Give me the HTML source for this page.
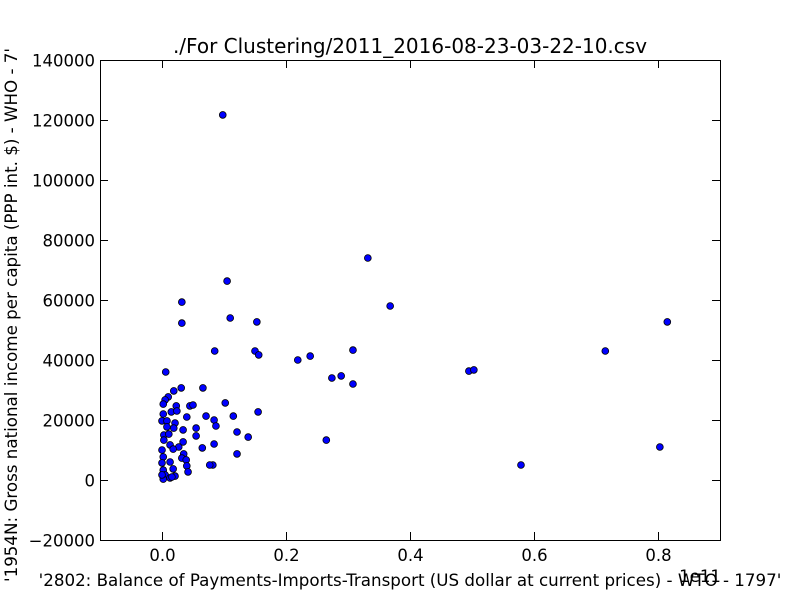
<!DOCTYPE html>
<html><head><meta charset="utf-8"><style>
body{margin:0;background:#fff}
svg{display:block;font-family:"DejaVu Sans","Liberation Sans",sans-serif}
</style></head><body>
<svg id="chart" width="800" height="600">
<rect width="800" height="600" fill="#fff"/>
<text x="410" y="53" font-size="20" text-anchor="middle">./For Clustering/2011_2016-08-23-03-22-10.csv</text>
<text x="410" y="586" font-size="16.7" text-anchor="middle">'2802: Balance of Payments-Imports-Transport (US dollar at current prices) - WTO - 1797'</text>
<text x="700" y="582" font-size="16.5" text-anchor="middle">1e11</text>
<text transform="translate(17,315) rotate(-90)" font-size="16.7" text-anchor="middle">'1954N: Gross national income per capita (PPP int. $) - WHO - 7'</text>
<g id="ticks"></g>
<g id="points"></g>
<rect x="100.5" y="60.5" width="620" height="480" fill="none" stroke="#000" stroke-width="1"/>
</svg>
<script>
const xTicks=[0.0,0.2,0.4,0.6,0.8];
const xTickLabels=["0.0","0.2","0.4","0.6","0.8"];
const yTicks=[-20000,0,20000,40000,60000,80000,100000,120000,140000];
const yTickLabels=["\u221220000","0","20000","40000","60000","80000","100000","120000","140000"];
const xs=[0.098,0.332,0.105,0.368,0.032,0.110,0.032,0.153,0.815,0.085,0.308,0.150,0.715,0.156,0.219,0.239,0.006,0.274,0.289,0.308,0.495,0.503,0.579,0.803,0.265,0.019,0.031,0.066,0.010,0.005,0.002,0.023,0.045,0.050,0.102,0.015,0.024,0.002,0.040,0.071,0.084,0.115,0.155,0.000,0.008,0.021,0.087,0.055,0.034,0.008,0.019,0.055,0.121,0.139,0.003,0.011,0.003,0.034,0.013,0.027,0.065,0.084,0.000,0.018,0.035,0.121,0.002,0.032,0.039,0.000,0.013,0.040,0.082,0.077,0.002,0.018,0.042,0.005,0.021,0.002,0.013,0.000,0.016];
const ys=[121700,74000,66300,58000,59300,54000,52300,52700,52700,43000,43300,43000,43000,41700,40000,41300,36000,34000,34700,32000,36300,36700,5000,11000,13300,29700,30700,30700,27700,26700,25300,24700,24700,25000,25700,22700,23000,22000,21000,21300,20000,21300,22700,19700,19700,19000,18000,17300,16700,17700,17300,14700,16000,14300,15000,15300,13300,12700,11700,11000,10700,12000,10000,10300,8700,8700,7700,7300,6700,5700,6000,4700,5000,5000,3300,3700,2700,1700,1300,300,700,1700,1000];
const X0=100,X1=720,Y0=540,Y1=60,XMIN=-0.1,XMAX=0.9,YMIN=-20000,YMAX=140000;
const sx=v=>X0+(v-XMIN)/(XMAX-XMIN)*(X1-X0);
const sy=v=>Y0-(v-YMIN)/(YMAX-YMIN)*(Y0-Y1);
const NS="http://www.w3.org/2000/svg";
const tg=document.getElementById('ticks');
xTicks.forEach((t,i)=>{
  const x=Math.round(sx(t))+0.5;
  [[540,532],[60,68]].forEach(([a,b])=>{
    const l=document.createElementNS(NS,'line');
    l.setAttribute('x1',x);l.setAttribute('x2',x);l.setAttribute('y1',a);l.setAttribute('y2',b);l.setAttribute('stroke','#000');
    
    
    tg.appendChild(l);
  });
  const tx=document.createElementNS(NS,'text');
  tx.setAttribute('x',x);tx.setAttribute('y',561);tx.setAttribute('font-size','16.5');tx.setAttribute('text-anchor','middle');
  tx.textContent=xTickLabels[i];
  
  
  tg.appendChild(tx);
});
yTicks.forEach((t,i)=>{
  const y=Math.round(sy(t))+0.5;
  [[100,108],[720,712]].forEach(([a,b])=>{
    const l=document.createElementNS(NS,'line');
    l.setAttribute('x1',a);l.setAttribute('x2',b);l.setAttribute('y1',y);l.setAttribute('y2',y);l.setAttribute('stroke','#000');
    
    
    tg.appendChild(l);
  });
  const tx=document.createElementNS(NS,'text');
  tx.setAttribute('x',95);tx.setAttribute('y',y+6);tx.setAttribute('font-size','16.5');tx.setAttribute('text-anchor','end');
  tx.textContent=yTickLabels[i];
  
  
  tg.appendChild(tx);
});
const pg=document.getElementById('points');
xs.forEach((v,i)=>{
  const c=document.createElementNS(NS,'circle');
  c.setAttribute('cx',sx(v));c.setAttribute('cy',sy(ys[i]));c.setAttribute('r',3.4);
  c.setAttribute('fill','#0000ff');c.setAttribute('stroke','#000');c.setAttribute('stroke-width','0.8');
  
  
  pg.appendChild(c);
});
</script>
</body></html>
